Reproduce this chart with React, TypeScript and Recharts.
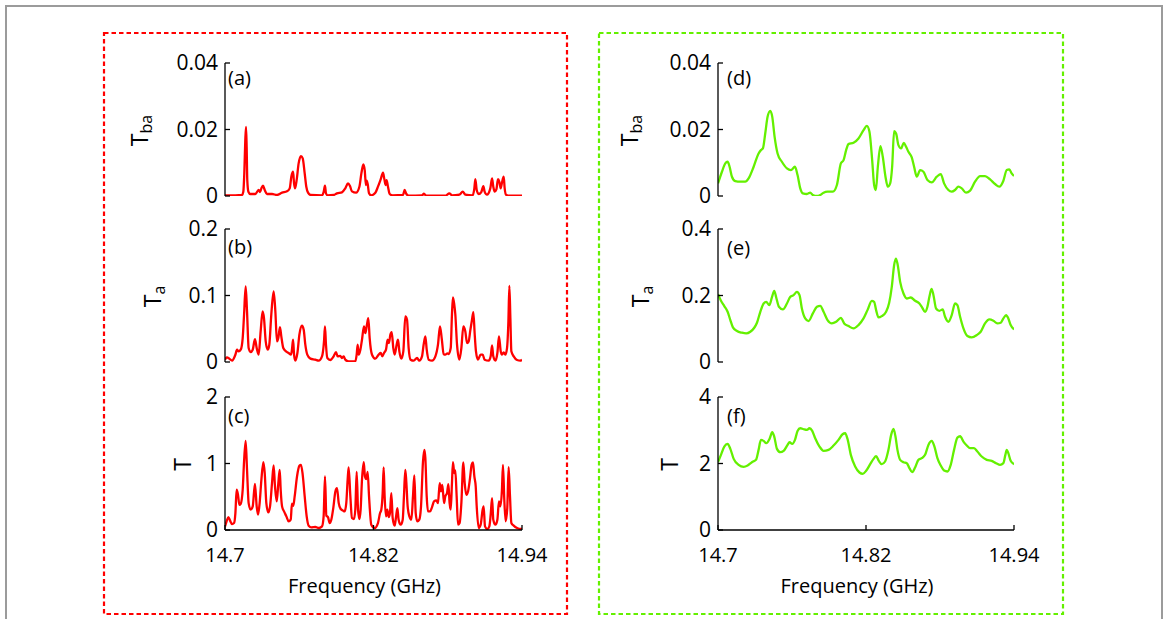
import React from 'react';
import { LineChart, Line, XAxis, YAxis, Label } from 'recharts';

const FONT = '"Open Sans", "Noto Sans", sans-serif';
const RED = '#ff0000';
const GREEN = '#64f000';
const X_TICKS = [14.7, 14.82, 14.94];

// (a) T_ba, single scatterer
const freqA = [14.7000, 14.7084, 14.7137, 14.7148, 14.7156, 14.7164, 14.7170, 14.7175, 14.7180, 14.7189, 14.7205, 14.7245, 14.7272, 14.7283, 14.7294, 14.7307, 14.7321, 14.7339, 14.7380, 14.7420, 14.7461, 14.7501, 14.7523, 14.7536, 14.7550, 14.7558, 14.7566, 14.7579, 14.7595, 14.7614, 14.7628, 14.7644, 14.7657, 14.7671, 14.7692, 14.7784, 14.7797, 14.7808, 14.7816, 14.7830, 14.7878, 14.7905, 14.7945, 14.7972, 14.7994, 14.8010, 14.8026, 14.8059, 14.8086, 14.8102, 14.8118, 14.8129, 14.8139, 14.8145, 14.8153, 14.8164, 14.8180, 14.8215, 14.8236, 14.8258, 14.8277, 14.8288, 14.8298, 14.8306, 14.8317, 14.8331, 14.8355, 14.8438, 14.8452, 14.8463, 14.8484, 14.8592, 14.8608, 14.8624, 14.8780, 14.8813, 14.8834, 14.8894, 14.8921, 14.8942, 14.9001, 14.9015, 14.9023, 14.9034, 14.9050, 14.9071, 14.9088, 14.9098, 14.9117, 14.9144, 14.9158, 14.9168, 14.9179, 14.9193, 14.9206, 14.9217, 14.9228, 14.9238, 14.9252, 14.9260, 14.9271, 14.9298, 14.9400];
const tbaA = [0.0002, 0.0002, 0.0003, 0.0013, 0.0068, 0.0168, 0.0208, 0.0148, 0.0048, 0.0013, 0.0006, 0.0006, 0.0018, 0.0012, 0.0023, 0.0031, 0.0018, 0.0006, 0.0006, 0.0003, 0.0010, 0.0014, 0.0023, 0.0058, 0.0073, 0.0038, 0.0023, 0.0048, 0.0098, 0.0120, 0.0113, 0.0068, 0.0028, 0.0010, 0.0003, 0.0002, 0.0012, 0.0031, 0.0008, 0.0002, 0.0003, 0.0008, 0.0011, 0.0023, 0.0038, 0.0030, 0.0014, 0.0010, 0.0028, 0.0068, 0.0095, 0.0078, 0.0033, 0.0046, 0.0036, 0.0008, 0.0002, 0.0010, 0.0028, 0.0050, 0.0070, 0.0050, 0.0033, 0.0048, 0.0028, 0.0006, 0.0002, 0.0003, 0.0018, 0.0008, 0.0001, 0.0002, 0.0007, 0.0001, 0.0001, 0.0008, 0.0002, 0.0004, 0.0013, 0.0004, 0.0002, 0.0023, 0.0051, 0.0018, 0.0006, 0.0012, 0.0030, 0.0013, 0.0004, 0.0023, 0.0053, 0.0028, 0.0013, 0.0020, 0.0051, 0.0043, 0.0023, 0.0040, 0.0058, 0.0023, 0.0004, 0.0001, 0.0001];

// (b) T_a
const freqB = [14.7000, 14.7016, 14.7035, 14.7057, 14.7084, 14.7097, 14.7110, 14.7127, 14.7143, 14.7154, 14.7167, 14.7178, 14.7191, 14.7207, 14.7224, 14.7242, 14.7256, 14.7272, 14.7288, 14.7304, 14.7315, 14.7329, 14.7345, 14.7358, 14.7374, 14.7393, 14.7407, 14.7420, 14.7431, 14.7444, 14.7455, 14.7471, 14.7493, 14.7514, 14.7533, 14.7541, 14.7550, 14.7558, 14.7568, 14.7585, 14.7601, 14.7622, 14.7636, 14.7649, 14.7665, 14.7690, 14.7730, 14.7757, 14.7784, 14.7800, 14.7808, 14.7816, 14.7827, 14.7851, 14.7878, 14.7897, 14.7910, 14.7932, 14.7945, 14.7959, 14.7972, 14.7999, 14.8053, 14.8064, 14.8072, 14.8080, 14.8094, 14.8107, 14.8123, 14.8134, 14.8147, 14.8158, 14.8169, 14.8188, 14.8215, 14.8242, 14.8258, 14.8271, 14.8285, 14.8301, 14.8314, 14.8325, 14.8336, 14.8347, 14.8360, 14.8371, 14.8387, 14.8398, 14.8409, 14.8425, 14.8441, 14.8457, 14.8471, 14.8484, 14.8500, 14.8525, 14.8552, 14.8570, 14.8592, 14.8605, 14.8619, 14.8630, 14.8646, 14.8673, 14.8700, 14.8721, 14.8737, 14.8751, 14.8767, 14.8780, 14.8797, 14.8807, 14.8824, 14.8834, 14.8842, 14.8853, 14.8861, 14.8875, 14.8894, 14.8910, 14.8926, 14.8942, 14.8956, 14.8969, 14.8983, 14.8996, 14.9007, 14.9018, 14.9028, 14.9044, 14.9066, 14.9082, 14.9098, 14.9131, 14.9147, 14.9158, 14.9168, 14.9185, 14.9201, 14.9214, 14.9228, 14.9238, 14.9252, 14.9265, 14.9279, 14.9290, 14.9298, 14.9306, 14.9314, 14.9333, 14.9360, 14.9387, 14.9400];
const taB = [0.0035, 0.007, 0.005, 0.002, 0.011, 0.0185, 0.016, 0.0185, 0.036, 0.071, 0.1135, 0.076, 0.021, 0.015, 0.0185, 0.0345, 0.021, 0.011, 0.046, 0.076, 0.066, 0.031, 0.0185, 0.026, 0.071, 0.106, 0.076, 0.031, 0.036, 0.0525, 0.0385, 0.021, 0.016, 0.0135, 0.011, 0.0185, 0.0335, 0.011, 0.002, 0.0135, 0.041, 0.0545, 0.0485, 0.026, 0.011, 0.005, 0.0035, 0.002, 0.0085, 0.031, 0.0535, 0.026, 0.006, 0.003, 0.0085, 0.015, 0.0085, 0.009, 0.006, 0.0085, 0.0035, 0.001, 0.001, 0.011, 0.026, 0.011, 0.0185, 0.0335, 0.0535, 0.0435, 0.056, 0.066, 0.036, 0.011, 0.005, 0.011, 0.0135, 0.0085, 0.0135, 0.0185, 0.0335, 0.0285, 0.041, 0.045, 0.021, 0.011, 0.026, 0.0335, 0.016, 0.005, 0.016, 0.0685, 0.0635, 0.021, 0.0035, 0.002, 0.006, 0.002, 0.0085, 0.026, 0.0385, 0.0185, 0.0035, 0.002, 0.0085, 0.026, 0.0535, 0.036, 0.012, 0.011, 0.013, 0.012, 0.021, 0.071, 0.097, 0.086, 0.072, 0.026, 0.0035, 0.021, 0.0535, 0.046, 0.0285, 0.031, 0.0485, 0.0635, 0.075, 0.041, 0.016, 0.0035, 0.011, 0.011, 0.0035, 0.002, 0.0085, 0.025, 0.0085, 0.002, 0.0135, 0.0385, 0.016, 0.011, 0.0145, 0.011, 0.021, 0.061, 0.1145, 0.066, 0.016, 0.0085, 0.003, 0.002, 0.0035];

// (c) T
const freqC = [14.7000, 14.7013, 14.7027, 14.7040, 14.7057, 14.7073, 14.7084, 14.7094, 14.7105, 14.7116, 14.7127, 14.7143, 14.7154, 14.7167, 14.7178, 14.7191, 14.7207, 14.7224, 14.7242, 14.7256, 14.7267, 14.7280, 14.7294, 14.7310, 14.7321, 14.7334, 14.7350, 14.7364, 14.7380, 14.7393, 14.7404, 14.7418, 14.7431, 14.7442, 14.7450, 14.7461, 14.7477, 14.7496, 14.7514, 14.7531, 14.7541, 14.7552, 14.7563, 14.7582, 14.7601, 14.7614, 14.7628, 14.7644, 14.7660, 14.7676, 14.7698, 14.7730, 14.7757, 14.7784, 14.7797, 14.7808, 14.7819, 14.7832, 14.7846, 14.7859, 14.7875, 14.7892, 14.7905, 14.7919, 14.7935, 14.7951, 14.7967, 14.7980, 14.7991, 14.7999, 14.8013, 14.8026, 14.8042, 14.8053, 14.8064, 14.8075, 14.8086, 14.8096, 14.8107, 14.8121, 14.8131, 14.8142, 14.8153, 14.8164, 14.8182, 14.8209, 14.8236, 14.8253, 14.8263, 14.8274, 14.8282, 14.8290, 14.8301, 14.8312, 14.8323, 14.8333, 14.8344, 14.8355, 14.8371, 14.8382, 14.8393, 14.8403, 14.8420, 14.8436, 14.8446, 14.8457, 14.8465, 14.8476, 14.8490, 14.8506, 14.8519, 14.8530, 14.8541, 14.8554, 14.8570, 14.8584, 14.8600, 14.8611, 14.8619, 14.8630, 14.8640, 14.8657, 14.8673, 14.8689, 14.8708, 14.8721, 14.8735, 14.8745, 14.8756, 14.8770, 14.8780, 14.8794, 14.8805, 14.8815, 14.8824, 14.8834, 14.8842, 14.8853, 14.8861, 14.8872, 14.8883, 14.8896, 14.8910, 14.8926, 14.8937, 14.8950, 14.8964, 14.8980, 14.8993, 14.9004, 14.9015, 14.9026, 14.9034, 14.9050, 14.9066, 14.9082, 14.9090, 14.9101, 14.9120, 14.9136, 14.9147, 14.9158, 14.9168, 14.9185, 14.9201, 14.9214, 14.9225, 14.9238, 14.9246, 14.9257, 14.9268, 14.9281, 14.9292, 14.9303, 14.9314, 14.9333, 14.9360, 14.9387, 14.9400];
const tC = [0.055, 0.13, 0.195, 0.145, 0.09, 0.105, 0.255, 0.605, 0.53, 0.38, 0.395, 0.605, 1.03, 1.34, 0.905, 0.405, 0.305, 0.355, 0.695, 0.355, 0.23, 0.405, 0.755, 1.02, 0.855, 0.405, 0.265, 0.355, 0.705, 0.97, 0.655, 0.43, 0.705, 0.905, 0.605, 0.355, 0.28, 0.205, 0.13, 0.155, 0.395, 0.365, 0.505, 0.805, 0.965, 0.98, 0.83, 0.505, 0.205, 0.065, 0.04, 0.045, 0.03, 0.055, 0.205, 0.805, 0.215, 0.195, 0.105, 0.155, 0.33, 0.58, 0.63, 0.405, 0.315, 0.295, 0.28, 0.405, 0.755, 0.94, 0.505, 0.18, 0.165, 0.305, 0.875, 0.305, 0.165, 0.305, 0.755, 1.02, 0.805, 0.765, 0.875, 0.505, 0.08, 0.03, 0.105, 0.255, 0.305, 0.555, 0.94, 0.505, 0.205, 0.305, 0.195, 0.255, 0.555, 0.18, 0.065, 0.195, 0.33, 0.155, 0.08, 0.155, 0.505, 0.905, 0.73, 0.355, 0.205, 0.155, 0.505, 0.82, 0.255, 0.13, 0.155, 0.355, 1.03, 1.205, 1.08, 0.505, 0.28, 0.28, 0.345, 0.43, 0.445, 0.405, 0.705, 0.58, 0.68, 0.405, 0.505, 0.555, 0.69, 0.405, 0.305, 0.705, 1.02, 0.855, 0.895, 0.505, 0.08, 0.105, 0.405, 1.015, 0.705, 0.53, 0.58, 0.78, 0.98, 1.015, 0.805, 0.655, 0.355, 0.03, 0.08, 0.305, 0.355, 0.055, 0.015, 0.055, 0.23, 0.48, 0.155, 0.08, 0.155, 0.43, 0.355, 0.605, 0.98, 0.455, 0.13, 0.33, 0.945, 0.505, 0.105, 0.065, 0.03, 0.015, 0.015];

// (d) T_ba, disordered case
const freqD = [14.7000, 14.7032, 14.7059, 14.7078, 14.7094, 14.7113, 14.7140, 14.7181, 14.7221, 14.7248, 14.7289, 14.7329, 14.7348, 14.7364, 14.7383, 14.7402, 14.7424, 14.7440, 14.7459, 14.7483, 14.7518, 14.7559, 14.7591, 14.7624, 14.7645, 14.7667, 14.7688, 14.7721, 14.7748, 14.7769, 14.7802, 14.7829, 14.7856, 14.7888, 14.7931, 14.7964, 14.7996, 14.8018, 14.8039, 14.8058, 14.8099, 14.8139, 14.8180, 14.8207, 14.8228, 14.8250, 14.8266, 14.8280, 14.8296, 14.8317, 14.8336, 14.8358, 14.8377, 14.8396, 14.8412, 14.8428, 14.8444, 14.8463, 14.8485, 14.8506, 14.8525, 14.8544, 14.8571, 14.8590, 14.8612, 14.8639, 14.8666, 14.8698, 14.8733, 14.8774, 14.8806, 14.8833, 14.8868, 14.8895, 14.8922, 14.8949, 14.8976, 14.9011, 14.9044, 14.9084, 14.9125, 14.9165, 14.9206, 14.9246, 14.9281, 14.9314, 14.9341, 14.9362, 14.9381, 14.9400];
const tbaD = [0.0038, 0.0073, 0.0098, 0.0103, 0.0088, 0.0058, 0.0045, 0.0043, 0.0043, 0.0053, 0.0088, 0.0128, 0.0138, 0.0143, 0.0188, 0.0238, 0.0256, 0.0238, 0.0178, 0.0128, 0.0103, 0.0083, 0.0078, 0.0088, 0.0063, 0.0023, 0.0008, 0.0006, 0.0010, 0.0003, 0.0000, 0.0003, 0.0010, 0.0013, 0.0013, 0.0033, 0.0098, 0.0108, 0.0138, 0.0156, 0.0160, 0.0173, 0.0198, 0.0211, 0.0193, 0.0108, 0.0033, 0.0018, 0.0088, 0.0150, 0.0118, 0.0058, 0.0028, 0.0038, 0.0088, 0.0195, 0.0188, 0.0153, 0.0143, 0.0160, 0.0148, 0.0133, 0.0116, 0.0088, 0.0058, 0.0078, 0.0073, 0.0048, 0.0041, 0.0058, 0.0066, 0.0038, 0.0018, 0.0013, 0.0018, 0.0028, 0.0023, 0.0010, 0.0016, 0.0043, 0.0060, 0.0060, 0.0050, 0.0036, 0.0028, 0.0046, 0.0078, 0.0080, 0.0068, 0.0060];

// (e) T_a
const freqE = [14.7000, 14.7024, 14.7051, 14.7078, 14.7100, 14.7121, 14.7154, 14.7194, 14.7229, 14.7262, 14.7294, 14.7316, 14.7343, 14.7370, 14.7391, 14.7416, 14.7437, 14.7456, 14.7472, 14.7494, 14.7526, 14.7559, 14.7586, 14.7613, 14.7640, 14.7661, 14.7680, 14.7707, 14.7734, 14.7769, 14.7802, 14.7829, 14.7856, 14.7888, 14.7923, 14.7958, 14.7996, 14.8023, 14.8058, 14.8099, 14.8139, 14.8180, 14.8212, 14.8247, 14.8266, 14.8282, 14.8301, 14.8328, 14.8363, 14.8388, 14.8409, 14.8428, 14.8442, 14.8455, 14.8477, 14.8504, 14.8531, 14.8563, 14.8598, 14.8633, 14.8652, 14.8679, 14.8698, 14.8714, 14.8731, 14.8747, 14.8768, 14.8795, 14.8822, 14.8841, 14.8868, 14.8895, 14.8922, 14.8941, 14.8963, 14.8990, 14.9022, 14.9057, 14.9098, 14.9130, 14.9165, 14.9200, 14.9233, 14.9265, 14.9292, 14.9314, 14.9336, 14.9354, 14.9373, 14.9400];
const taE = [0.204, 0.184, 0.168, 0.151, 0.126, 0.104, 0.093, 0.088, 0.086, 0.091, 0.103, 0.118, 0.151, 0.176, 0.181, 0.171, 0.194, 0.214, 0.194, 0.166, 0.158, 0.176, 0.196, 0.201, 0.211, 0.201, 0.161, 0.131, 0.123, 0.146, 0.166, 0.169, 0.151, 0.126, 0.116, 0.121, 0.133, 0.116, 0.108, 0.101, 0.111, 0.131, 0.156, 0.184, 0.181, 0.156, 0.134, 0.138, 0.151, 0.178, 0.226, 0.291, 0.311, 0.296, 0.241, 0.206, 0.191, 0.194, 0.184, 0.176, 0.166, 0.151, 0.166, 0.196, 0.220, 0.201, 0.161, 0.154, 0.158, 0.136, 0.121, 0.141, 0.176, 0.171, 0.136, 0.101, 0.078, 0.074, 0.081, 0.091, 0.116, 0.128, 0.124, 0.116, 0.118, 0.131, 0.141, 0.131, 0.111, 0.098];

// (f) T
const freqF = [14.7000, 14.7024, 14.7051, 14.7078, 14.7100, 14.7127, 14.7167, 14.7208, 14.7240, 14.7275, 14.7308, 14.7329, 14.7348, 14.7370, 14.7391, 14.7418, 14.7440, 14.7456, 14.7478, 14.7505, 14.7532, 14.7564, 14.7580, 14.7602, 14.7624, 14.7645, 14.7667, 14.7694, 14.7721, 14.7742, 14.7764, 14.7788, 14.7823, 14.7856, 14.7896, 14.7937, 14.7977, 14.8010, 14.8031, 14.8050, 14.8077, 14.8112, 14.8147, 14.8174, 14.8201, 14.8234, 14.8261, 14.8282, 14.8304, 14.8328, 14.8355, 14.8382, 14.8404, 14.8423, 14.8439, 14.8455, 14.8477, 14.8504, 14.8531, 14.8552, 14.8574, 14.8598, 14.8625, 14.8652, 14.8679, 14.8706, 14.8733, 14.8755, 14.8779, 14.8806, 14.8833, 14.8860, 14.8887, 14.8914, 14.8941, 14.8963, 14.8990, 14.9017, 14.9044, 14.9076, 14.9103, 14.9138, 14.9179, 14.9219, 14.9255, 14.9287, 14.9314, 14.9330, 14.9341, 14.9354, 14.9373, 14.9400];
const tF = [2.04, 2.26, 2.51, 2.59, 2.44, 2.14, 1.96, 1.90, 1.94, 2.04, 2.11, 2.41, 2.71, 2.68, 2.61, 2.74, 2.94, 2.81, 2.44, 2.34, 2.38, 2.56, 2.64, 2.59, 2.71, 2.98, 3.06, 3.03, 3.01, 3.06, 2.98, 2.76, 2.51, 2.38, 2.41, 2.54, 2.71, 2.88, 2.91, 2.74, 2.26, 1.91, 1.73, 1.69, 1.78, 1.98, 2.14, 2.22, 2.08, 1.98, 2.06, 2.41, 2.86, 3.04, 2.81, 2.41, 2.11, 2.04, 2.01, 1.86, 1.74, 1.88, 2.11, 2.16, 2.26, 2.56, 2.68, 2.51, 2.16, 1.94, 1.79, 1.76, 1.96, 2.41, 2.78, 2.82, 2.66, 2.54, 2.46, 2.46, 2.36, 2.21, 2.11, 2.08, 2.01, 1.96, 2.01, 2.26, 2.41, 2.31, 2.08, 1.98];

const toRows = (freq: number[], vals: number[]) =>
  freq.slice(0, vals.length).map((f, i) => ({ f, v: vals[i] }));

// layout of every panel: plot box is placed at (left, top), PLOT_H tall
const ML = 120;
const MT = 20;
const MR = 36;
const MB = 16;
const PLOT_H = 133;
const AXIS = { stroke: '#000', strokeWidth: 1.3 };

interface PanelProps {
  freq: number[];
  vals: number[];
  color: string;
  yTicks: number[];
  left: number;
  top: number;
  width: number;
  sym: string;
  sub?: string;
  labelDx: number;
  showX?: boolean;
}

function Panel({ freq, vals, color, yTicks, left, top, width, sym, sub, labelDx, showX }: PanelProps) {
  const data = toRows(freq, vals);
  const xh = showX ? 72 : 0;
  const yDomain = [yTicks[0], yTicks[yTicks.length - 1]];

  const yLabel = (p: any) => {
    const vb = p.viewBox;
    const cx = vb.x + vb.width + labelDx;
    const cy = vb.y + vb.height / 2 + 1;
    return (
      <text
        x={cx}
        y={cy}
        transform={`rotate(-90 ${cx} ${cy})`}
        textAnchor="middle"
        dominantBaseline="central"
        fill="#000"
        fontSize={23}
      >
        {sym}
        {sub && <tspan dy={7} fontSize={16}>{sub}</tspan>}
      </text>
    );
  };

  return (
    <div style={{ position: 'absolute', left: left - ML, top: top - MT }}>
      <LineChart
        width={ML + width + MR}
        height={MT + PLOT_H + xh + MB}
        data={data}
        margin={{ top: MT, right: MR, bottom: MB, left: 0 }}
      >
        <XAxis
          xAxisId="b"
          dataKey="f"
          type="number"
          domain={[14.7, 14.94]}
          ticks={X_TICKS}
          interval={0}
          allowDataOverflow
          height={xh}
          axisLine={AXIS}
          tickLine={AXIS}
          tickSize={-5}
          tickMargin={23}
          tick={showX ? { fill: '#000', fontSize: 20 } : false}
        >
          {showX && (
            <Label value="Frequency (GHz)" position="insideBottom" offset={9} dx={-9} fill="#000" fontSize={20} />
          )}
        </XAxis>
        <XAxis
          xAxisId="t"
          orientation="top"
          dataKey="f"
          type="number"
          domain={[14.7, 14.94]}
          ticks={X_TICKS}
          interval={0}
          allowDataOverflow
          height={0}
          axisLine={AXIS}
          tickLine={AXIS}
          tickSize={-5}
          tick={false}
        />
        <YAxis
          yAxisId="l"
          dataKey="v"
          type="number"
          domain={yDomain}
          ticks={yTicks}
          interval={0}
          allowDataOverflow
          width={ML}
          axisLine={AXIS}
          tickLine={AXIS}
          tickSize={-5}
          tickMargin={12}
          tick={{ fill: '#000', fontSize: 21 }}
        >
          <Label content={yLabel} />
        </YAxis>
        <YAxis
          yAxisId="r"
          orientation="right"
          dataKey="v"
          type="number"
          domain={yDomain}
          ticks={yTicks}
          interval={0}
          allowDataOverflow
          width={0}
          axisLine={AXIS}
          tickLine={AXIS}
          tickSize={-5}
          tick={false}
        />
        <Line
          xAxisId="b"
          yAxisId="l"
          dataKey="v"
          type="monotone"
          stroke={color}
          strokeWidth={2.3}
          dot={false}
          isAnimationActive={false}
        />
      </LineChart>
    </div>
  );
}

const panelLetters = [
  { t: '(a)', x: 228, y: 77.5 },
  { t: '(b)', x: 228, y: 246.5 },
  { t: '(c)', x: 228, y: 415 },
  { t: '(d)', x: 727, y: 77.5 },
  { t: '(e)', x: 727, y: 247 },
  { t: '(f)', x: 727, y: 415 },
];

export default function App() {
  return (
    <div
      style={{
        position: 'absolute',
        left: 0,
        top: 0,
        width: 1165,
        height: 619,
        overflow: 'hidden',
        background: '#fff',
        fontFamily: FONT,
      }}
    >
      <div
        style={{
          position: 'absolute',
          left: 5,
          top: 5,
          width: 1158,
          height: 700,
          border: '2px solid #9b9b9b',
          boxSizing: 'border-box',
        }}
      />

      <Panel freq={freqA} vals={tbaA} color={RED} yTicks={[0, 0.02, 0.04]} left={225} top={63} width={297} sym="T" sub="ba" labelDx={-86} />
      <Panel freq={freqB} vals={taB} color={RED} yTicks={[0, 0.1, 0.2]} left={225} top={229} width={297} sym="T" sub="a" labelDx={-73} />
      <Panel freq={freqC} vals={tC} color={RED} yTicks={[0, 1, 2]} left={225} top={397} width={297} sym="T" labelDx={-43} showX />

      <Panel freq={freqD} vals={tbaD} color={GREEN} yTicks={[0, 0.02, 0.04]} left={718} top={63} width={296} sym="T" sub="ba" labelDx={-89} />
      <Panel freq={freqE} vals={taE} color={GREEN} yTicks={[0, 0.2, 0.4]} left={718} top={229} width={296} sym="T" sub="a" labelDx={-78} />
      <Panel freq={freqF} vals={tF} color={GREEN} yTicks={[0, 2, 4]} left={718} top={397} width={296} sym="T" labelDx={-49} showX />

      <svg width={1165} height={619} style={{ position: 'absolute', left: 0, top: 0, pointerEvents: 'none' }}>
        <rect x={104} y={33} width={463} height={581} fill="none" stroke={RED} strokeWidth={2.2} strokeDasharray="4.5 3" />
        <rect x={599} y={33} width={464} height={581} fill="none" stroke={GREEN} strokeWidth={2.2} strokeDasharray="4.5 3" />
        {panelLetters.map((p) => (
          <text key={p.t} x={p.x} y={p.y} dominantBaseline="central" fontSize={20} fill="#000" fontFamily={FONT}>
            {p.t}
          </text>
        ))}
      </svg>
    </div>
  );
}
